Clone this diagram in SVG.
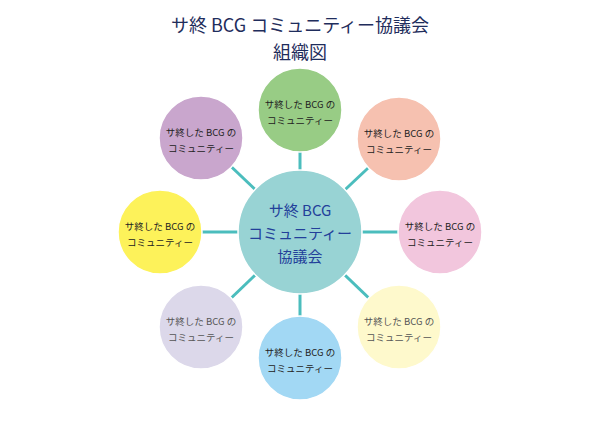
<svg xmlns="http://www.w3.org/2000/svg" width="600" height="424" viewBox="0 0 600 424">
<style>
text{font-family:"Noto Sans CJK JP","Noto Sans",sans-serif;text-anchor:middle}
.t{fill:#1f2d5c;font-size:18px}
.n{font-size:9.5px;fill:#222}
.g{fill:#555}
.c{stroke:#fff;stroke-width:1.5}
#links line{stroke:#4bbdbd;stroke-width:3}
</style>
<rect width="600" height="424" fill="#fff"/>
<text class="t" x="300" y="32">サ終 BCG コミュニティー協議会</text>
<text class="t" x="300" y="59">組織図</text>
<g id="links">
<line x1="300" y1="232" x2="300" y2="110"/>
<line x1="300" y1="232" x2="300" y2="358"/>
<line x1="300" y1="232" x2="160" y2="232"/>
<line x1="300" y1="232" x2="440" y2="232"/>
<line x1="300" y1="232" x2="201" y2="138"/>
<line x1="300" y1="232" x2="399" y2="139"/>
<line x1="300" y1="232" x2="201" y2="327"/>
<line x1="300" y1="232" x2="399" y2="327"/>
</g>
<g id="center"><circle class="c" cx="300" cy="232" r="62" fill="#98d3d4"/>
<text x="300" y="216" font-size="15" fill="#23409a">サ終 BCG</text>
<text x="300" y="239" font-size="15" fill="#23409a">コミュニティー</text>
<text x="300" y="262" font-size="15" fill="#23409a">協議会</text></g>
<g id="n1"><circle class="c" cx="300" cy="110" r="42" fill="#98cc85"/><text class="n" x="300" y="108">サ終した BCG の</text><text class="n" x="300" y="124">コミュニティー</text></g>
<g id="n2"><circle class="c" cx="399" cy="139" r="42" fill="#f6c1b0"/><text class="n" x="399" y="137">サ終した BCG の</text><text class="n" x="399" y="153">コミュニティー</text></g>
<g id="n3"><circle class="c" cx="440" cy="232" r="42" fill="#f2c6dd"/><text class="n" x="440" y="230">サ終した BCG の</text><text class="n" x="440" y="246">コミュニティー</text></g>
<g id="n4"><circle class="c" cx="399" cy="327" r="42" fill="#fef9cc"/><text class="n g" x="399" y="325">サ終した BCG の</text><text class="n g" x="399" y="341">コミュニティー</text></g>
<g id="n5"><circle class="c" cx="300" cy="358" r="42" fill="#a2d8f4"/><text class="n" x="300" y="356">サ終した BCG の</text><text class="n" x="300" y="372">コミュニティー</text></g>
<g id="n6"><circle class="c" cx="201" cy="327" r="42" fill="#dcd8ea"/><text class="n g" x="201" y="325">サ終した BCG の</text><text class="n g" x="201" y="341">コミュニティー</text></g>
<g id="n7"><circle class="c" cx="160" cy="232" r="42" fill="#fdf25a"/><text class="n" x="160" y="230">サ終した BCG の</text><text class="n" x="160" y="246">コミュニティー</text></g>
<g id="n8"><circle class="c" cx="201" cy="138" r="42" fill="#c9a6cd"/><text class="n" x="201" y="136">サ終した BCG の</text><text class="n" x="201" y="152">コミュニティー</text></g>
</svg>
